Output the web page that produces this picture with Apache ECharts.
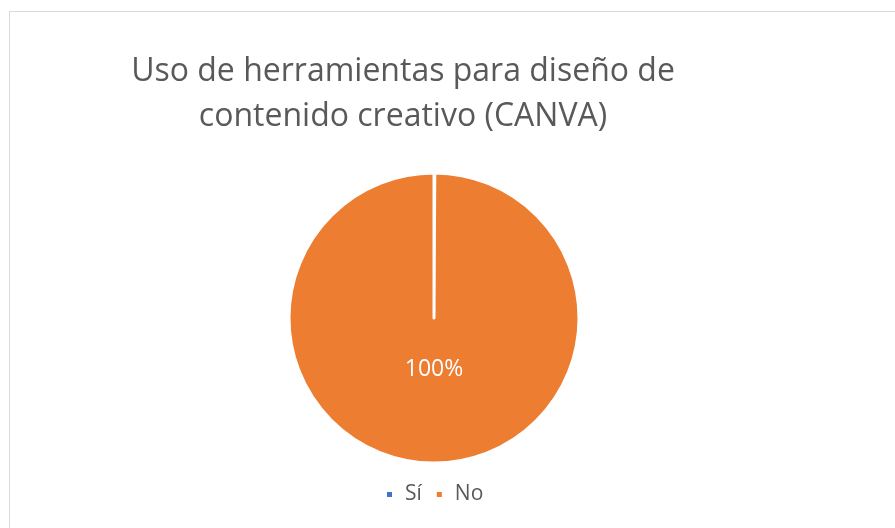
<!DOCTYPE html>
<html>
<head>
<meta charset="utf-8">
<script src="https://cdn.jsdelivr.net/npm/echarts@6/dist/echarts.min.js"></script>
<style>
  html, body { margin: 0; padding: 0; background: #fff; overflow: hidden; }
  .frame {
    position: absolute; left: 9px; top: 11px;
    width: 900px; height: 530px;
    border: 1px solid #d9d9d9;
  }
  #chart { position: absolute; left: 0; top: 0; width: 895px; height: 528px; }
</style>
</head>
<body>
<div class="frame"></div>
<div id="chart"></div>
<script>
  const categories = ['Sí', 'No'];
  const values = [0, 100];
  const colors = ['#4472C4', '#ED7D31'];
  const titleText = 'Uso de herramientas para diseño de\ncontenido creativo (CANVA)';

  const chart = echarts.init(document.getElementById('chart'));
  const option = {
    animation: false,
    title: {
      text: titleText,
      left: 398,
      top: 44,
      textAlign: 'center',
      textStyle: {
        fontFamily: 'Open Sans',
        fontWeight: 'normal',
        fontSize: 32,
        lineHeight: 45,
        color: '#595959'
      }
    },
    legend: {
      bottom: 18,
      left: 380,
      icon: 'rect',
      itemWidth: 7,
      itemHeight: 7,
      itemGap: 13,
      textStyle: {
        fontFamily: 'Open Sans',
        fontSize: 21,
        color: '#595959',
        padding: [0, 0, 0, 7]
      },
      data: categories
    },
    series: [{
      type: 'pie',
      center: [434, 318],
      radius: [0, 145],
      startAngle: 90,
      clockwise: true,
      // the 0% slice still draws its white edge as a line to the centre
      minAngle: 0.3,
      itemStyle: { borderColor: '#fff', borderWidth: 3 },
      label: {
        show: true,
        position: 'center',
        offset: [0, 51],
        formatter: p => p.value > 0 ? p.percent + '%' : '',
        color: '#fff',
        fontFamily: 'Open Sans',
        fontSize: 23
      },
      labelLine: { show: false },
      emphasis: { disabled: true },
      data: categories.map((c, i) => ({
        name: c,
        value: values[i],
        itemStyle: { color: colors[i] }
      }))
    }]
  };
  chart.setOption(option);
</script>
</body>
</html>
